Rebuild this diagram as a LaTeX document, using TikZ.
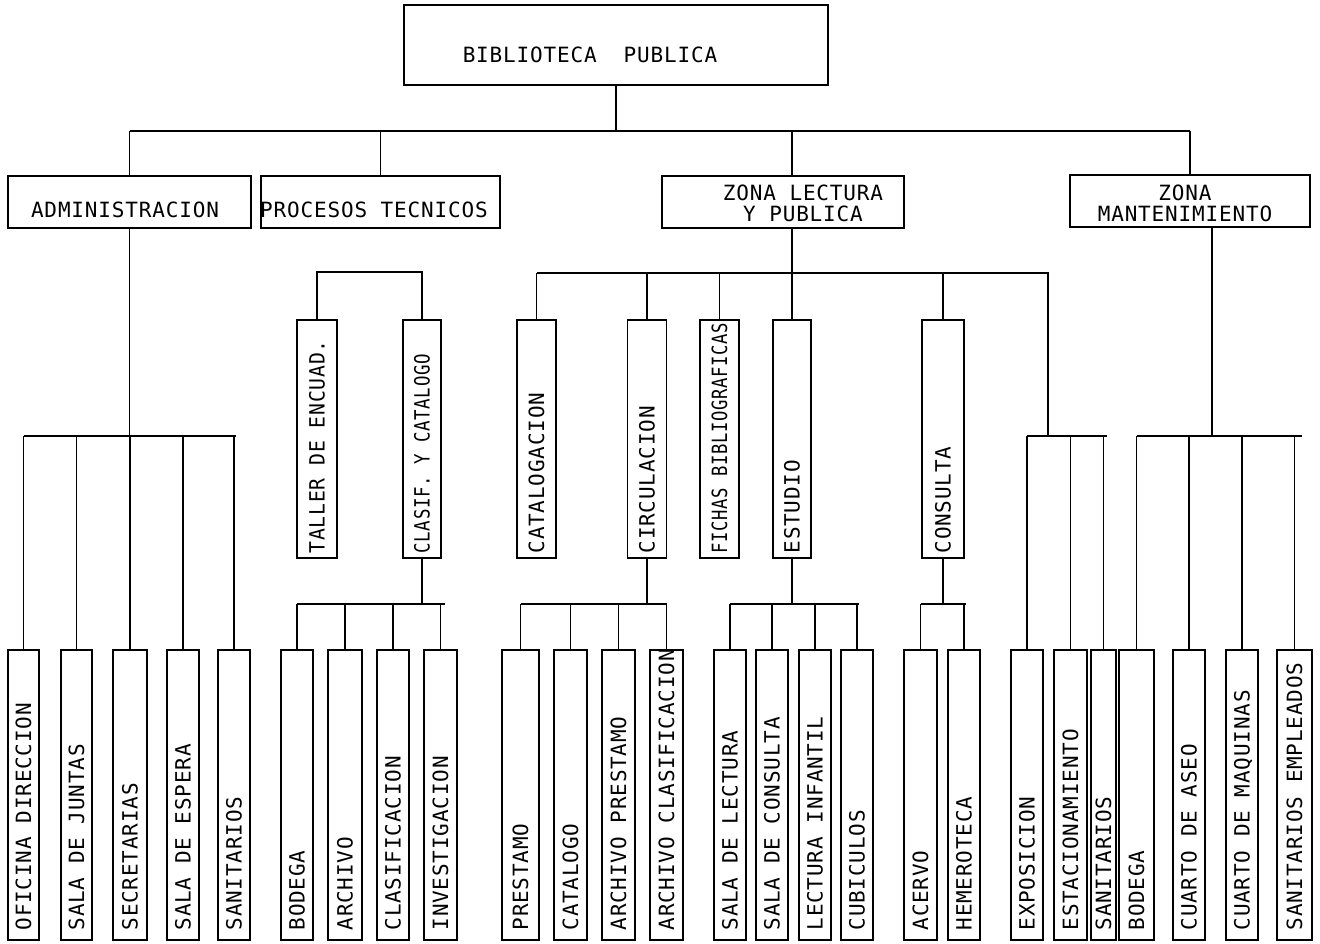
\documentclass[tikz,border=0pt]{standalone}
\usepackage{fontspec}
\usepackage{graphicx}
\newfontfamily\tw[LetterSpace=4]{DejaVu Sans Mono}
\begin{document}
\begin{tikzpicture}[x=1pt,y=-1pt,
  ln/.style={line width=1.3pt},
  bx/.style={draw, line width=1.3pt, inner sep=0pt},
  hb/.style={bx, minimum height=52pt},
  vb/.style={bx, minimum height=238pt},
  lb/.style={bx, minimum height=290pt},
  tx/.style={inner sep=0pt, font=\tw\fontsize{21}{21}\selectfont, text height=15.3pt, text depth=0pt},
  txtwo/.style={inner sep=0pt, font=\tw\fontsize{21}{21}\selectfont, align=center},
  vt/.style={tx, rotate=90, anchor=west},
]
\fill[white] (0,0) rectangle (1320,944);
\useasboundingbox (0,0) rectangle (1320,944);

% bus levels
\coordinate (b0) at (0,131);
\coordinate (ba) at (0,436);
\coordinate (bp) at (0,272);
\coordinate (bz) at (0,273);
\coordinate (bl) at (0,604);
\coordinate (zr) at (1048,273);
\coordinate (ze) at (1048,436);

% root
\node[bx, minimum width=424pt, minimum height=80pt] (root) at (616,45) {};
\node[tx] (troot) at (590,55) {BIBLIOTECA\ \ PUBLICA};

% level 1
\node[hb, minimum width=243pt] (adm) at (129.5,202) {};
\node[tx] (tadm) at (125,210) {ADMINISTRACION};
\node[hb, minimum width=239pt] (pt) at (380.5,202) {};
\node[tx] (tpt) at (374,210) {PROCESOS TECNICOS};
\node[hb, minimum width=242pt] (zl) at (783,202) {};
\node[txtwo] (tzl) at (803,203) {ZONA LECTURA\\Y PUBLICA};
\node[hb, minimum width=240pt] (zm) at (1190,201) {};
\node[txtwo] (tzm) at (1185,203) {ZONA\\MANTENIMIENTO};

% level 2
\foreach \n/\x/\w/\s/\t in {tal/317/40/0.94/TALLER DE ENCUAD.,
  cla/422/38/0.83/CLASIF. Y CATALOGO,
  cat/536.5/39/1/CATALOGACION,
  cir/647/39/1/CIRCULACION,
  fic/719.5/39/0.82/FICHAS BIBLIOGRAFICAS,
  est/792/38/1/ESTUDIO,
  con/943/42/1/CONSULTA}{
  \node[vb, minimum width=\w pt] (\n) at (\x,439) {};
  \node[vt] (t\n) at ([yshift=5pt]\n.south) {\scalebox{\s}[1]{\t}};
}

% level 3
\foreach \n/\x/\w/\t in {ofi/23.5/31/OFICINA DIRECCION,
  sj/76.5/31/SALA DE JUNTAS,
  sec/130/34/SECRETARIAS,
  se/183/32/SALA DE ESPERA,
  san/234/32/SANITARIOS,
  bod/297/32/BODEGA,
  arc/345/34/ARCHIVO,
  cls/393/32/CLASIFICACION,
  inv/440.5/33/INVESTIGACION,
  pre/520.5/37/PRESTAMO,
  ctl/570.5/33/CATALOGO,
  ap/618.5/33/ARCHIVO PRESTAMO,
  ac/666.5/33/ARCHIVO CLASIFICACION,
  sl/730/32/SALA DE LECTURA,
  sc/772/32/SALA DE CONSULTA,
  li/815/32/LECTURA INFANTIL,
  cub/857/32/CUBICULOS,
  ace/920.5/33/ACERVO,
  hem/964/32/HEMEROTECA,
  exp/1027/32/EXPOSICION,
  esta/1070.5/33/ESTACIONAMIENTO,
  santwo/1103.5/25/SANITARIOS,
  bodtwo/1136.5/35/BODEGA,
  ca/1189/32/CUARTO DE ASEO,
  cm/1242/32/CUARTO DE MAQUINAS,
  setwo/1294.5/35/SANITARIOS EMPLEADOS}{
  \node[lb, minimum width=\w pt] (\n) at (\x,795) {};
  \node[vt] (t\n) at ([yshift=10pt]\n.south) {\t};
}

% top level connectors
\draw[ln] (root.south) -- (root.south |- b0);
\draw[ln] (adm.north |- b0) -- (zm.north |- b0);
\draw[ln] (adm.north) -- (adm.north |- b0);
\draw[ln] (pt.north) -- (pt.north |- b0);
\draw[ln] ([xshift=9pt]zl.north) -- ([xshift=9pt]zl.north |- b0);
\draw[ln] (zm.north) -- (zm.north |- b0);

% administracion
\draw[ln] (adm.south) -- (adm.south |- ba);
\draw[ln] (ofi.north |- ba) -- ([xshift=2pt]san.north |- ba);
\foreach \n in {ofi,sj,sec,se,san} \draw[ln] (\n.north) -- (\n.north |- ba);

% procesos tecnicos
\draw[ln] (tal.north) -- (tal.north |- bp) -- (cla.north |- bp) -- (cla.north);
\draw[ln] (cla.south) -- (cla.south |- bl);
\draw[ln] (bod.north |- bl) -- ([xshift=4pt]inv.north |- bl);
\foreach \n in {bod,arc,cls,inv} \draw[ln] (\n.north) -- (\n.north |- bl);

% zona lectura
\draw[ln] ([xshift=9pt]zl.south) -- (est.north);
\draw[ln] (cat.north |- bz) -- (zr) -- (ze);
\foreach \n in {cat,cir,fic,con} \draw[ln] (\n.north) -- (\n.north |- bz);
\draw[ln] (exp.north |- ba) -- ([xshift=3pt]santwo.north |- ba);
\foreach \n in {exp,esta,santwo} \draw[ln] (\n.north) -- (\n.north |- ba);

\draw[ln] (cir.south) -- (cir.south |- bl);
\draw[ln] (pre.north |- bl) -- (ac.north |- bl);
\foreach \n in {pre,ctl,ap,ac} \draw[ln] (\n.north) -- (\n.north |- bl);

\draw[ln] (est.south) -- (est.south |- bl);
\draw[ln] (sl.north |- bl) -- ([xshift=2pt]cub.north |- bl);
\foreach \n in {sl,sc,li,cub} \draw[ln] (\n.north) -- (\n.north |- bl);

\draw[ln] (con.south) -- (con.south |- bl);
\draw[ln] (ace.north |- bl) -- ([xshift=2pt]hem.north |- bl);
\foreach \n in {ace,hem} \draw[ln] (\n.north) -- (\n.north |- bl);

% zona mantenimiento
\draw[ln] ([xshift=22pt]zm.south) -- ([xshift=22pt]zm.south |- ba);
\draw[ln] (bodtwo.north |- ba) -- ([xshift=7pt]setwo.north |- ba);
\foreach \n in {bodtwo,ca,cm,setwo} \draw[ln] (\n.north) -- (\n.north |- ba);
\end{tikzpicture}
\end{document}
